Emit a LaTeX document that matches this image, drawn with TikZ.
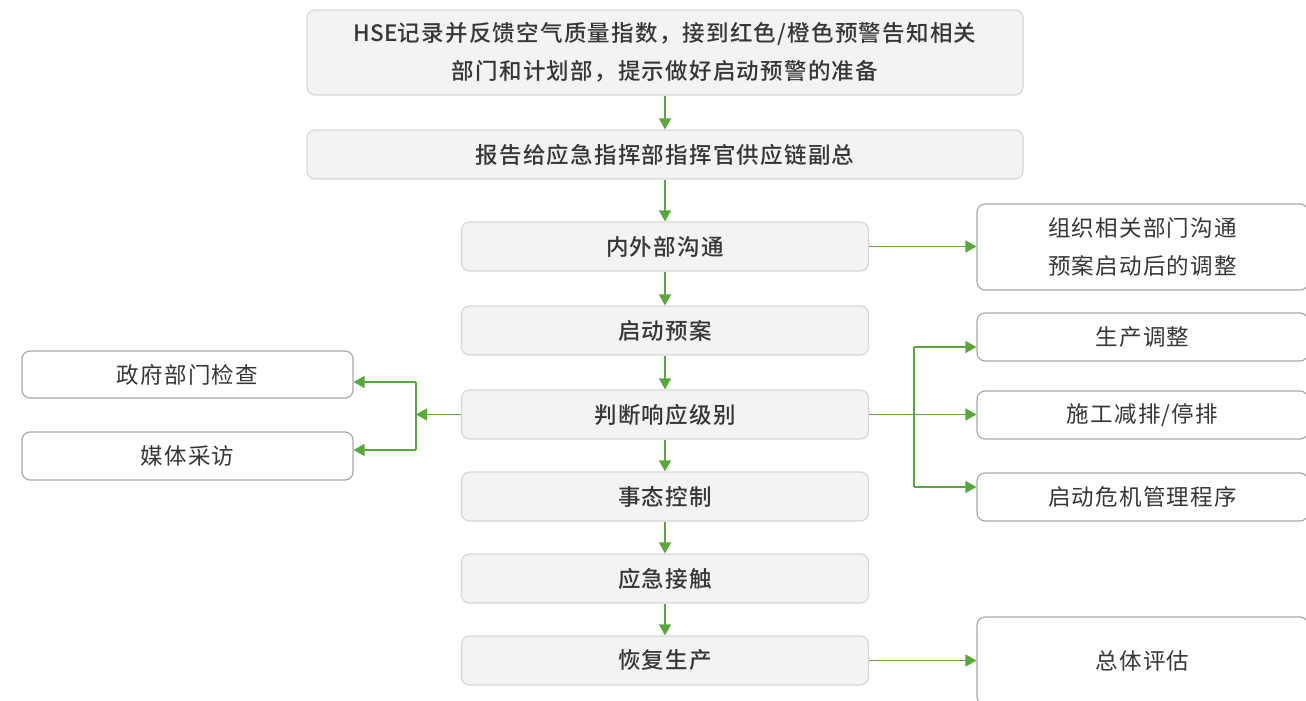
\documentclass[tikz,border=0pt]{standalone}
\usepackage{fontspec}
\setmainfont{Noto Sans CJK SC}[LetterSpace=5.5, BoldFont={Noto Sans CJK SC Medium}]
\newfontfamily\latinmed{Noto Sans CJK SC Medium}[BoldFont={Noto Sans CJK SC Medium}, LetterSpace=1]
\usetikzlibrary{arrows.meta}
\definecolor{gfill}{HTML}{F2F3F2}
\definecolor{gline}{HTML}{D6D8D6}
\definecolor{wline}{HTML}{A8A8A8}
\definecolor{txt}{HTML}{363636}
\definecolor{grn}{HTML}{58A83A}
\begin{document}
\begin{tikzpicture}[x=1pt,y=-1pt,
  gbox/.style={draw=gline, fill=gfill, rounded corners=8pt, line width=1.2pt, text=txt,
    font=\fontsize{22.5}{37.5}\selectfont\bfseries, align=center, inner sep=0pt},
  wbox/.style={draw=wline, fill=white, rounded corners=8pt, line width=1.2pt, text=txt,
    font=\fontsize{22.5}{37.5}\selectfont, align=center, inner sep=0pt},
  mainbox/.style={gbox, minimum width=407pt, minimum height=49pt},
  sidebox/.style={wbox, minimum width=331pt, minimum height=48pt},
  ln/.style={draw=grn, line width=1.5pt},
  arr/.style={ln, -{Triangle[length=11pt,width=12pt]}}]
\useasboundingbox (0,0) rectangle (1306,701);
\clip (0,0) rectangle (1306,701);
\fill[white] (0,0) rectangle (1306,701);

% main column
\node[gbox, minimum width=716pt, minimum height=85pt] (n1) at (665,52.5)
  {{\latinmed HSE}记录并反馈空气质量指数，接到红色/橙色预警告知相关\\部门和计划部，提示做好启动预警的准备};
\node[gbox, minimum width=716pt, minimum height=49pt] (n2) at (665,154.5) {报告给应急指挥部指挥官供应链副总};
\node[mainbox] (n3) at (665,246.5) {内外部沟通};
\node[mainbox] (n4) at (665,330.5) {启动预案};
\node[mainbox] (n5) at (665,414.5) {判断响应级别};
\node[mainbox] (n6) at (665,496.5) {事态控制};
\node[mainbox] (n7) at (665,578.5) {应急接触};
\node[mainbox] (n8) at (665,660.5) {恢复生产};

% right side
\node[wbox, minimum width=331pt, minimum height=86pt] (r1) at (1142.5,247) {组织相关部门沟通\\预案启动后的调整};
\node[sidebox] (r2) at (1142.5,337) {生产调整};
\node[sidebox] (r3) at (1142.5,415) {施工减排/停排};
\node[sidebox] (r4) at (1142.5,497) {启动危机管理程序};
\node[wbox, minimum width=331pt, minimum height=88pt] (r5) at (1142.5,661) {总体评估};

% left side
\node[wbox, minimum width=331pt, minimum height=47pt] (l1) at (187.5,374.5) {政府部门检查};
\node[wbox, minimum width=331pt, minimum height=48pt] (l2) at (187.5,456) {媒体采访};

% vertical connectors
\draw[arr] (n1) -- (n2);
\draw[arr] (n2) -- (n3);
\draw[arr] (n3) -- (n4);
\draw[arr] (n4) -- (n5);
\draw[arr] (n5) -- (n6);
\draw[arr] (n6) -- (n7);
\draw[arr] (n7) -- (n8);

% horizontal connectors
\draw[arr] (n3.east) -- (n3.east -| r1.west);
\draw[arr] (n8.east) -- (n8.east -| r5.west);

% right branch
\coordinate (jr1) at (914,347);
\coordinate (jr2) at (914,487);
\draw[ln] (jr1) -- (jr2);
\draw[arr] (jr1) -- (jr1 -| r2.west);
\draw[arr] (jr2) -- (jr2 -| r4.west);
\draw[arr] (n5.east) -- (n5.east -| r3.west);

% left branch
\coordinate (jl1) at (416,382);
\coordinate (jl2) at (416,450);
\draw[ln] (jl1) -- (jl2);
\draw[arr] (jl1) -- (jl1 -| l1.east);
\draw[arr] (jl2) -- (jl2 -| l2.east);
\draw[arr] (n5.west) -- (n5.west -| jl1);
\end{tikzpicture}
\end{document}
